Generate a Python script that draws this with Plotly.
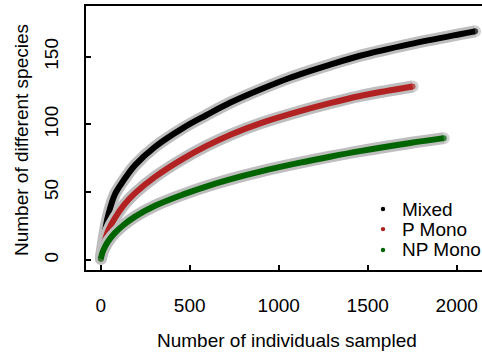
import plotly.graph_objects as go

# Rarefaction curves
mixed_x = [1, 10, 25, 43, 80, 130, 193, 305, 464, 592, 726, 900, 1064, 1288, 1457, 1738, 2018, 2103]
mixed_y = [1, 10, 22, 33.5, 48.5, 59, 70, 83.5, 97.5, 106.8, 116, 126, 134.5, 144.1, 150.7, 159.3, 166.6, 168.7]

pmono_x = [1, 10, 25, 43, 80, 130, 193, 305, 464, 592, 726, 900, 1120, 1288, 1457, 1600, 1752]
pmono_y = [1, 7.5, 15, 22, 31, 40.5, 49.3, 61.3, 74.8, 84, 92.3, 101, 109.8, 115.7, 121, 124.6, 128]

npmono_x = [1, 10, 25, 43, 80, 130, 193, 305, 464, 592, 726, 900, 1120, 1288, 1457, 1738, 1927]
npmono_y = [1, 5.5, 10, 14, 20, 26, 32, 40, 48.4, 54.2, 59.5, 65.4, 71.8, 76.2, 80.3, 86.3, 89.9]

series_names = ["Mixed", "P Mono", "NP Mono"]
series_colors = ["#000000", "#B22222", "#006400"]
x_ticks = [0, 500, 1000, 1500, 2000]
y_ticks = [0, 50, 100, 150]

FONT = "Liberation Sans, Arial, sans-serif"
FS = 19


def end_sizes(n, s):
    return [s] + [0] * (n - 2) + [s]


fig = go.Figure()
for name, color, xs, ys in zip(series_names, series_colors,
                               [mixed_x, pmono_x, npmono_x],
                               [mixed_y, pmono_y, npmono_y]):
    fig.add_trace(go.Scatter(x=xs, y=ys, mode="lines+markers",
                             line=dict(color="#BEBEBE", width=12, shape="spline", smoothing=1),
                             marker=dict(color="#BEBEBE", size=end_sizes(len(xs), 12), line=dict(width=0)),
                             showlegend=False, hoverinfo="skip"))
    fig.add_trace(go.Scatter(x=xs, y=ys, mode="lines+markers", name=name,
                             line=dict(color=color, width=6, shape="spline", smoothing=1),
                             marker=dict(color=color, size=end_sizes(len(xs), 6), line=dict(width=0)),
                             showlegend=False))

# Manual legend (R-style)
legend_y = [0.231, 0.155, 0.076]
for name, color, ly in zip(series_names, series_colors, legend_y):
    fig.add_shape(type="circle", xref="paper", yref="paper",
                  x0=(383 - 2.2 - 86) / 396, x1=(383 + 2.2 - 86) / 396,
                  y0=ly - 2.2 / 264, y1=ly + 2.2 / 264,
                  fillcolor=color, line=dict(color=color, width=0))
    fig.add_annotation(text=name, xref="paper", yref="paper",
                       x=(400 - 86) / 396, y=ly, xanchor="left", yanchor="middle",
                       showarrow=False, font=dict(family=FONT, size=FS, color="black"))

fig.add_annotation(text="Number of individuals sampled", xref="paper", yref="paper",
                   x=(286.5 - 86) / 396, y=(270 - 340) / 264, xanchor="center", yanchor="middle",
                   showarrow=False, font=dict(family=FONT, size=FS, color="black"))
fig.add_annotation(text="Number of different species", xref="paper", yref="paper",
                   x=(21 - 86) / 396, y=(270 - 140) / 264, xanchor="center", yanchor="middle",
                   textangle=-90, showarrow=False, font=dict(family=FONT, size=FS, color="black"))

fig.update_xaxes(range=[-82.6, 2142], tickvals=x_ticks, ticks="inside", ticklen=5, tickwidth=1.5,
                 tickcolor="black", showline=True, linecolor="black", linewidth=2, mirror=True,
                 showgrid=False, zeroline=False, ticklabelstandoff=17,
                 tickfont=dict(family=FONT, size=FS, color="black"))
fig.update_yaxes(range=[-7.38, 187.4], tickvals=y_ticks, ticks="inside", ticklen=5, tickwidth=1.5,
                 tickcolor="black", showline=True, linecolor="black", linewidth=2, mirror=False,
                 showgrid=False, zeroline=False, tickangle=-90, ticklabelstandoff=18,
                 tickfont=dict(family=FONT, size=FS, color="black"))

fig.update_layout(width=482, height=353, margin=dict(l=86, r=0, t=6, b=83),
                  plot_bgcolor="white", paper_bgcolor="white", showlegend=False)

fig.write_html("out.html")
